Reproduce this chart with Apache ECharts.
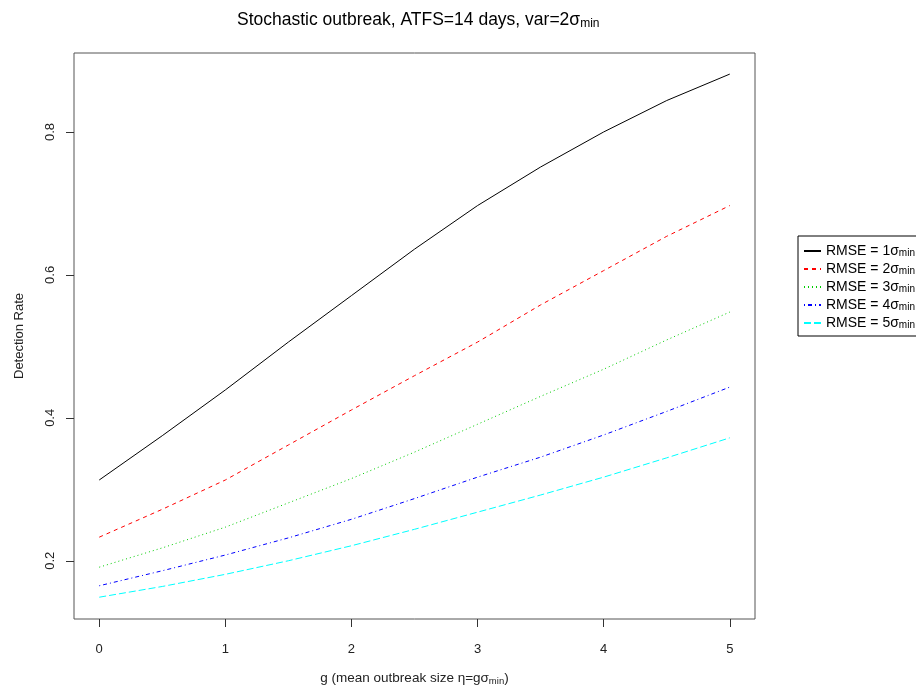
<!DOCTYPE html>
<html>
<head>
<meta charset="utf-8">
<script src="https://cdn.jsdelivr.net/npm/echarts@6/dist/echarts.min.js"></script>
<style>
html,body{margin:0;padding:0;background:#fff;}
#chart{width:916px;height:691px;}
</style>
</head>
<body>
<div id="chart"></div>
<script>
// Data
const gValues = [0, 0.5, 1, 1.5, 2, 2.5, 3, 3.5, 4, 4.5, 5];
const rmse1 = [0.313, 0.375, 0.439, 0.506, 0.571, 0.636, 0.697, 0.751, 0.800, 0.844, 0.881];
const rmse2 = [0.233, 0.272, 0.313, 0.362, 0.411, 0.459, 0.506, 0.558, 0.606, 0.654, 0.697];
const rmse3 = [0.191, 0.218, 0.247, 0.281, 0.315, 0.352, 0.391, 0.430, 0.468, 0.509, 0.548];
const rmse4 = [0.165, 0.186, 0.208, 0.232, 0.258, 0.287, 0.317, 0.345, 0.376, 0.409, 0.443];
const rmse5 = [0.149, 0.164, 0.181, 0.200, 0.221, 0.244, 0.268, 0.292, 0.317, 0.344, 0.372];
const xTicks = [0, 1, 2, 3, 4, 5];
const yTicks = [0.2, 0.4, 0.6, 0.8];
const seriesNames = ['RMSE = 1', 'RMSE = 2', 'RMSE = 3', 'RMSE = 4', 'RMSE = 5'];
const seriesValues = [rmse1, rmse2, rmse3, rmse4, rmse5];
const colors = ['#000000', '#FF0000', '#00CD00', '#0000FF', '#00FFFF'];
const dashes = ['solid', [4, 4], [1, 3], [1, 3, 4, 3], [7, 3]];

const FONT = 'Liberation Sans, Arial, sans-serif';
const chart = echarts.init(document.getElementById('chart'), null, {renderer: 'canvas'});

const series = seriesNames.map((name, i) => ({
  name: name,
  type: 'line',
  symbol: 'none',
  smooth: false,
  data: gValues.map((g, j) => [g, seriesValues[i][j]]),
  lineStyle: {color: colors[i], width: 1, type: dashes[i]},
  itemStyle: {color: colors[i]},
  emphasis: {disabled: true},
  animation: false
}));

chart.setOption({
  animation: false,
  backgroundColor: '#ffffff',
  title: {
    text: '{t|Stochastic outbreak, ATFS=14 days, var=2σ}{s|min}',
    left: 232,
    top: 5,
    textStyle: {
      fontWeight: 'normal',
      rich: {
        t: {fontFamily: FONT, fontSize: 17.5, fontWeight: 'normal', color: '#000', lineHeight: 20},
        s: {fontFamily: FONT, fontSize: 12, fontWeight: 'normal', color: '#000', lineHeight: 12, verticalAlign: 'bottom'}
      }
    }
  },
  legend: {
    left: 798,
    top: 236,
    orient: 'vertical',
    backgroundColor: '#fff',
    borderColor: '#000',
    borderWidth: 1,
    borderRadius: 0,
    padding: [8, 20, 6, 5],
    itemWidth: 17,
    itemHeight: 14,
    itemGap: 4,
    selectedMode: false,
    itemStyle: {opacity: 0},
    data: seriesNames,
    formatter: function (name) { return '{t|' + name + 'σ}{s|min}'; },
    textStyle: {
      rich: {
        t: {fontFamily: FONT, fontSize: 14, color: '#000', lineHeight: 14},
        s: {fontFamily: FONT, fontSize: 10, color: '#000', lineHeight: 10, verticalAlign: 'bottom'}
      }
    }
  },
  grid: {
    left: 74,
    right: 161,
    top: 53,
    bottom: 72,
    outerBoundsMode: 'none',
    containLabel: false,
    show: true,
    borderColor: '#555',
    borderWidth: 1,
    backgroundColor: 'transparent'
  },
  xAxis: {
    type: 'value',
    min: -0.2,
    max: 5.2,
    splitLine: {show: false},
    axisLine: {show: false, onZero: false},
    axisTick: {show: true, length: 8, customValues: xTicks, lineStyle: {color: '#333'}},
    axisLabel: {customValues: xTicks, margin: 24, fontFamily: FONT, fontSize: 13, color: '#222',
      formatter: v => String(v)},
    name: '{t|g (mean outbreak size η=gσ}{s|min}{t|)}',
    nameLocation: 'middle',
    nameGap: 51,
    nameTextStyle: {
      rich: {
        t: {fontFamily: FONT, fontSize: 13.5, color: '#222', lineHeight: 16},
        s: {fontFamily: FONT, fontSize: 9.5, color: '#222', lineHeight: 10, verticalAlign: 'bottom'}
      }
    }
  },
  yAxis: {
    type: 'value',
    min: 0.1185,
    max: 0.9105,
    splitLine: {show: false},
    axisLine: {show: false, onZero: false},
    axisTick: {show: true, length: 8, customValues: yTicks, lineStyle: {color: '#333'}},
    axisLabel: {customValues: yTicks, margin: 17, rotate: 90, fontFamily: FONT, fontSize: 13, color: '#222',
      formatter: v => v.toFixed(1)},
    name: 'Detection Rate',
    nameLocation: 'middle',
    nameGap: 48,
    nameRotate: 90,
    nameTextStyle: {fontFamily: FONT, fontSize: 13, color: '#222'}
  },
  series: series
});
</script>
</body>
</html>
